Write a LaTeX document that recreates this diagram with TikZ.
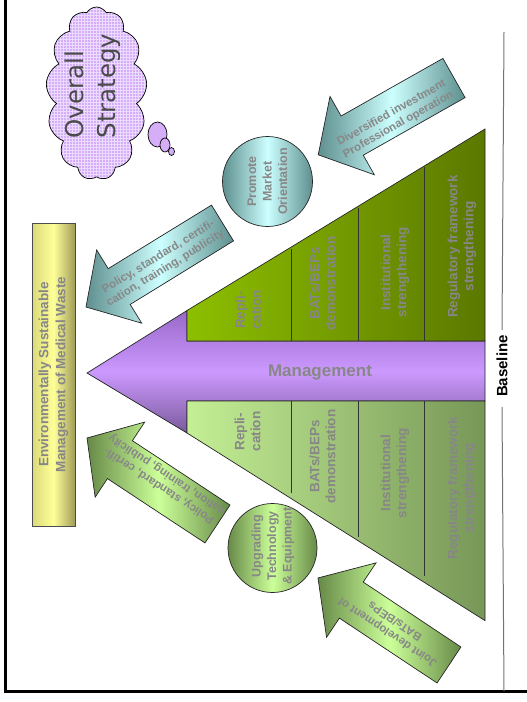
\documentclass[tikz,border=0pt]{standalone}
\usepackage{fontspec}
\setmainfont{Liberation Sans}
\newfontfamily\cloudfont{DejaVu Sans}
\usetikzlibrary{shapes.symbols,patterns}
\definecolor{tealdark}{HTML}{5F8F8F}
\definecolor{teallight}{HTML}{CCFFFF}
\definecolor{grndark}{HTML}{678A48}
\definecolor{grnlight}{HTML}{CCFF99}
\definecolor{ylwleft}{HTML}{DADA7A}
\definecolor{ylwmid}{HTML}{FFFF99}
\definecolor{ylwright}{HTML}{A09C58}
\definecolor{upL}{HTML}{8DBF00}
\definecolor{upR}{HTML}{5B7800}
\definecolor{loL}{HTML}{C4EF95}
\definecolor{loR}{HTML}{779757}
\definecolor{purtop}{HTML}{9868C8}
\definecolor{purmid}{HTML}{CC99FF}
\definecolor{purbot}{HTML}{7A5A9C}
\definecolor{txtgray}{HTML}{878787}
\definecolor{lav}{HTML}{D5AEF7}
\definecolor{lavgrid}{HTML}{EBDCFF}
\definecolor{cloudtxt}{HTML}{4A4A4A}
\newcommand\blockarr[7]{%
  \begin{scope}[shift={(#1)},rotate=#2]
    \path[#7] (0,-#4) -- ({#3-#6},-#4) -- ({#3-#6},-#5) -- (#3,0)
      -- ({#3-#6},#5) -- ({#3-#6},#4) -- (0,#4) -- cycle;
  \end{scope}}
\begin{document}
\begin{tikzpicture}[x=1pt,y=-1pt,
  outl/.style={draw=black!85,line width=0.7pt},
  celltext/.style={text=txtgray,font=\bfseries\fontsize{13.5}{16}\selectfont,align=center,rotate=90,inner sep=0pt},
  circtext/.style={text=txtgray,font=\bfseries\fontsize{12.5}{15.5}\selectfont,align=center,rotate=90,inner sep=0pt},
  arrtext/.style={text=txtgray,font=\bfseries\fontsize{11.5}{13.5}\selectfont,align=center,inner sep=0pt},
  tealshade/.style={outl,left color=tealdark,right color=tealdark,middle color=teallight},
  grnshade/.style={outl,left color=grndark,right color=grndark,middle color=grnlight},
  divider/.style={draw=black!80,line width=0.7pt},
  bubble/.style={draw=black,line width=0.7pt,fill=lav},
]
\useasboundingbox (0,0) rectangle (527,702);

% ---------- central arrow and pyramid ----------
\path[outl,top color=purtop,bottom color=purbot,middle color=purmid]
  (87,373) -- (187,310.5) -- (187,341) -- (485,341) -- (485,401)
  -- (187,401) -- (187,433) -- cycle;
\path[outl,left color=upL,right color=upR]
  (187,310.5) -- (485,129) -- (485,341) -- (187,341) -- cycle;
\path[outl,left color=loL,right color=loR]
  (187,433) -- (485,620.6) -- (485,401) -- (187,401) -- cycle;

\draw[divider] (291.7,341) -- (291.7,248.5);
\draw[divider] (358,341) -- (358,208);
\draw[divider] (424.5,341) -- (424.5,167);
\draw[divider] (291.7,401) -- (291.7,493);
\draw[divider] (358,401) -- (358,537);
\draw[divider] (424.5,401) -- (424.5,576);

\node[text=txtgray,font=\bfseries\fontsize{17}{20}\selectfont,inner sep=0pt] (mgmt) at (320,372) {Management};

\node[celltext] (u1) at (248,310) {Repli-\\cation};
\node[celltext] (u2) at (322.5,283.5) {BATs/BEPs\\demonstration};
\node[celltext] (u3) at (395,272.5) {Institutional\\strengthening};
\node[celltext] (u4) at (462,246.5) {Regulatory framework\\strengthening};
\node[celltext] (l1) at (247.5,431.5) {Repli-\\cation};
\node[celltext] (l2) at (322.5,456.5) {BATs/BEPs\\demonstration};
\node[celltext] (l3) at (395,473) {Institutional\\strengthening};
\node[celltext] (l4) at (462,488) {Regulatory framework\\strengthening};

% ---------- goal box ----------
\node[draw=black!70,line width=0.7pt,left color=ylwleft,right color=ylwright,middle color=ylwmid,
  minimum width=43,minimum height=303,inner sep=0pt] (goal) at (53.5,374.5) {};
\node[celltext,font=\bfseries\fontsize{13.5}{17}\selectfont] (goaltxt) at (goal) {Environmentally Sustainable\\Management of Medical Waste};

% ---------- circles ----------
\node[circle,outl,left color=tealdark,right color=tealdark,middle color=teallight,
  minimum size=90,inner sep=0pt] (pmo) at (267.5,181.5) {};
\node[circtext] (pmotxt) at (pmo) {Promote\\Market\\Orientation};
\node[circle,outl,left color=grndark,right color=grndark,middle color=grnlight,
  minimum size=89,inner sep=0pt] (ute) at (272.5,548) {};
\node[circtext] (utetxt) at (273,546) {Upgrading\\Technology\\\& Equipment};

% ---------- block arrows ----------
\coordinate (tA) at (454,78);
\coordinate (tB) at (222.5,223);
\coordinate (tC) at (217.5,524);
\coordinate (tD) at (449,665);
\blockarr{tA}{209.5}{156}{22.5}{45}{39}{tealshade}
\blockarr{tB}{211.6}{160.3}{21}{43}{39}{tealshade}
\blockarr{tC}{146.6}{156.3}{22.7}{45}{39.4}{grnshade}
\blockarr{tD}{146.4}{157.3}{21.6}{44.7}{40}{grnshade}
\node[arrtext,rotate=29.5] (atxt) at (395,119) {Diversified investment\\Professional operation};
\node[arrtext,rotate=31.6] (btxt) at (162,263) {Policy, standard, certifi-\\cation, training, publicity};
\node[arrtext,rotate=146.6] (ctxt) at (163,480) {Policy, standard, certifi-\\cation, training, publicity};
\node[arrtext,rotate=146.4] (dtxt) at (391,627) {Joint development of\\BATs/BEPs};

% ---------- cloud ----------
\node[cloud,cloud puffs=13,cloud puff arc=120,cloud ignores aspect,
  minimum width=101,minimum height=173,inner sep=0pt,fill=lav] (cl) at (96.5,93.5) {};
\node[cloud,cloud puffs=13,cloud puff arc=120,cloud ignores aspect,
  minimum width=101,minimum height=173,inner sep=0pt,pattern=grid,pattern color=lavgrid,
  draw=black,line width=0.7pt] (clgrid) at (cl) {};
\draw[bubble] (157.5,134.5) ellipse [x radius=9.5,y radius=12.5];
\draw[bubble] (165,145) ellipse [x radius=5,y radius=7];
\draw[bubble] (171.5,151.5) ellipse [x radius=3,y radius=4];
\node[text=cloudtxt,font=\cloudfont\fontsize{24.5}{32}\selectfont,align=left,rotate=90,inner sep=0pt]
  (cltxt) at (92.5,86) {Overall\\Strategy};

% ---------- frame and baseline ----------
\draw[black,line width=3pt] (5.5,0) -- (5.5,691);
\draw[black,line width=3pt] (4,691) -- (527,691);
\node[font=\bfseries\fontsize{15}{18}\selectfont,rotate=90,inner sep=0pt] (base) at (502,366) {Baseline};
\coordinate (rTop) at (504,32);
\coordinate (rBot) at (504,691);
\draw[black!55,line width=1pt] (rTop) -- (base.east |- 0,330);
\draw[black!55,line width=1pt] (base.west |- 0,407) -- (rBot);
\end{tikzpicture}
\end{document}
